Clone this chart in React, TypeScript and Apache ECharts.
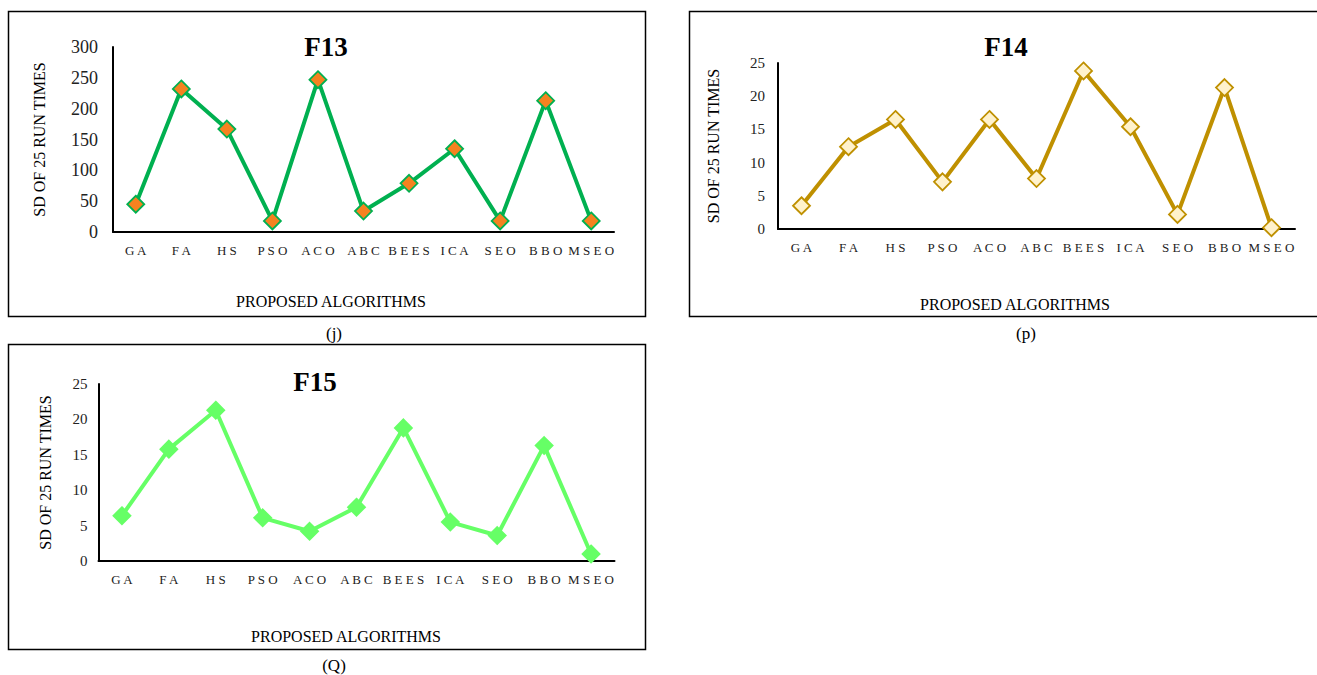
import React, { useEffect, useRef } from "react";
import * as echarts from "echarts";

const categories = ["GA", "FA", "HS", "PSO", "ACO", "ABC", "BEES", "ICA", "SEO", "BBO", "MSEO"];
const f13Values = [45, 232, 167, 18, 247, 34, 79, 135, 18, 213, 18];
const f14Values = [3.5, 12.4, 16.5, 7.1, 16.5, 7.6, 23.8, 15.4, 2.2, 21.3, 0.2];
const f15Values = [6.4, 15.8, 21.3, 6.1, 4.2, 7.6, 18.8, 5.5, 3.6, 16.3, 1.0];
const f13Ticks = { min: 0, max: 300, interval: 50 };
const f14Ticks = { min: 0, max: 25, interval: 5 };
const f15Ticks = { min: 0, max: 25, interval: 5 };

const FONT = "'Liberation Serif', 'Times New Roman', serif";

export default function App() {
  const ref = useRef<HTMLDivElement>(null);
  useEffect(() => {
    const chart = echarts.init(ref.current!, undefined, { renderer: "svg" });
    const grids = [
      { left: 113, top: 47, width: 501, height: 185 },
      { left: 778, top: 63, width: 517, height: 166 },
      { left: 98.5, top: 384, width: 516, height: 177 },
    ];
    const ticks = [f13Ticks, f14Ticks, f15Ticks];
    const yNameGaps = [66, 57, 45];
    const yFont = [18, 15, 15];
    const yMargin = [15, 13, 11];
    const xAxis = grids.map((_, i) => ({
      type: "category",
      gridIndex: i,
      data: categories,
      boundaryGap: true,
      axisLine: { lineStyle: { color: "#000", width: 2 } },
      axisTick: { show: false },
      axisLabel: {
        color: "#222",
        fontFamily: FONT,
        fontSize: 13,
        margin: 12,
        interval: 0,
        formatter: (v: string) => v.split("").join(" "),
      },
    }));
    const yAxis = grids.map((_, i) => ({
      type: "value",
      gridIndex: i,
      min: ticks[i].min,
      max: ticks[i].max,
      interval: ticks[i].interval,
      axisLine: { show: true, lineStyle: { color: "#000", width: 2 } },
      axisTick: { show: false },
      splitLine: { show: false },
      axisLabel: { color: "#222", fontFamily: FONT, fontSize: yFont[i], margin: yMargin[i] },
      name: "SD OF 25 RUN TIMES",
      nameLocation: "middle",
      nameRotate: 90,
      nameGap: yNameGaps[i],
      nameTextStyle: { color: "#000", fontFamily: FONT, fontSize: 16 },
    }));
    const styles = [
      { line: "#00B050", fill: "#F58220", border: "#00B050" },
      { line: "#BF9000", fill: "#FFF2CC", border: "#BF9000" },
      { line: "#66FF66", fill: "#66FF66", border: "#66FF66" },
    ];
    const data = [f13Values, f14Values, f15Values];
    const series = data.map((d, i) => ({
      type: "line",
      xAxisIndex: i,
      yAxisIndex: i,
      data: d,
      symbol: "diamond",
      symbolSize: 17,
      lineStyle: { color: styles[i].line, width: 4 },
      itemStyle: { color: styles[i].fill, borderColor: styles[i].border, borderWidth: 1.8 },
    }));
    const frame = (x: number, y: number, w: number, h: number) => ({
      type: "rect",
      shape: { x, y, width: w, height: h },
      style: { fill: "none", stroke: "#000", lineWidth: 1.5 },
      silent: true,
    });
    const txt = (x: number, y: number, text: string, size: number, bold = false) => ({
      type: "text",
      x,
      y,
      style: {
        text,
        fill: "#000",
        font: `${bold ? "bold " : ""}${size}px ${FONT}`,
        textAlign: "center",
        textVerticalAlign: "middle",
      },
      silent: true,
    });
    chart.setOption({
      animation: false,
      backgroundColor: "#fff",
      grid: grids,
      xAxis,
      yAxis,
      series,
      graphic: [
        frame(8.5, 11.5, 637, 305),
        frame(689.5, 11.5, 640, 305),
        frame(8.5, 344.5, 637, 305),
        txt(326, 47, "F13", 27, true),
        txt(1006, 47, "F14", 27, true),
        txt(315, 382, "F15", 27, true),
        txt(331, 301, "PROPOSED ALGORITHMS", 16),
        txt(1015, 304, "PROPOSED ALGORITHMS", 16),
        txt(346, 636, "PROPOSED ALGORITHMS", 16),
        txt(334, 333, "(j)", 17),
        txt(1026, 333, "(p)", 17),
        txt(334, 665, "(Q)", 17),
      ],
    });
    return () => chart.dispose();
  }, []);
  return (
    <div
      ref={ref}
      style={{ position: "fixed", left: 0, top: 0, width: 1317, height: 675, background: "#fff" }}
    />
  );
}
